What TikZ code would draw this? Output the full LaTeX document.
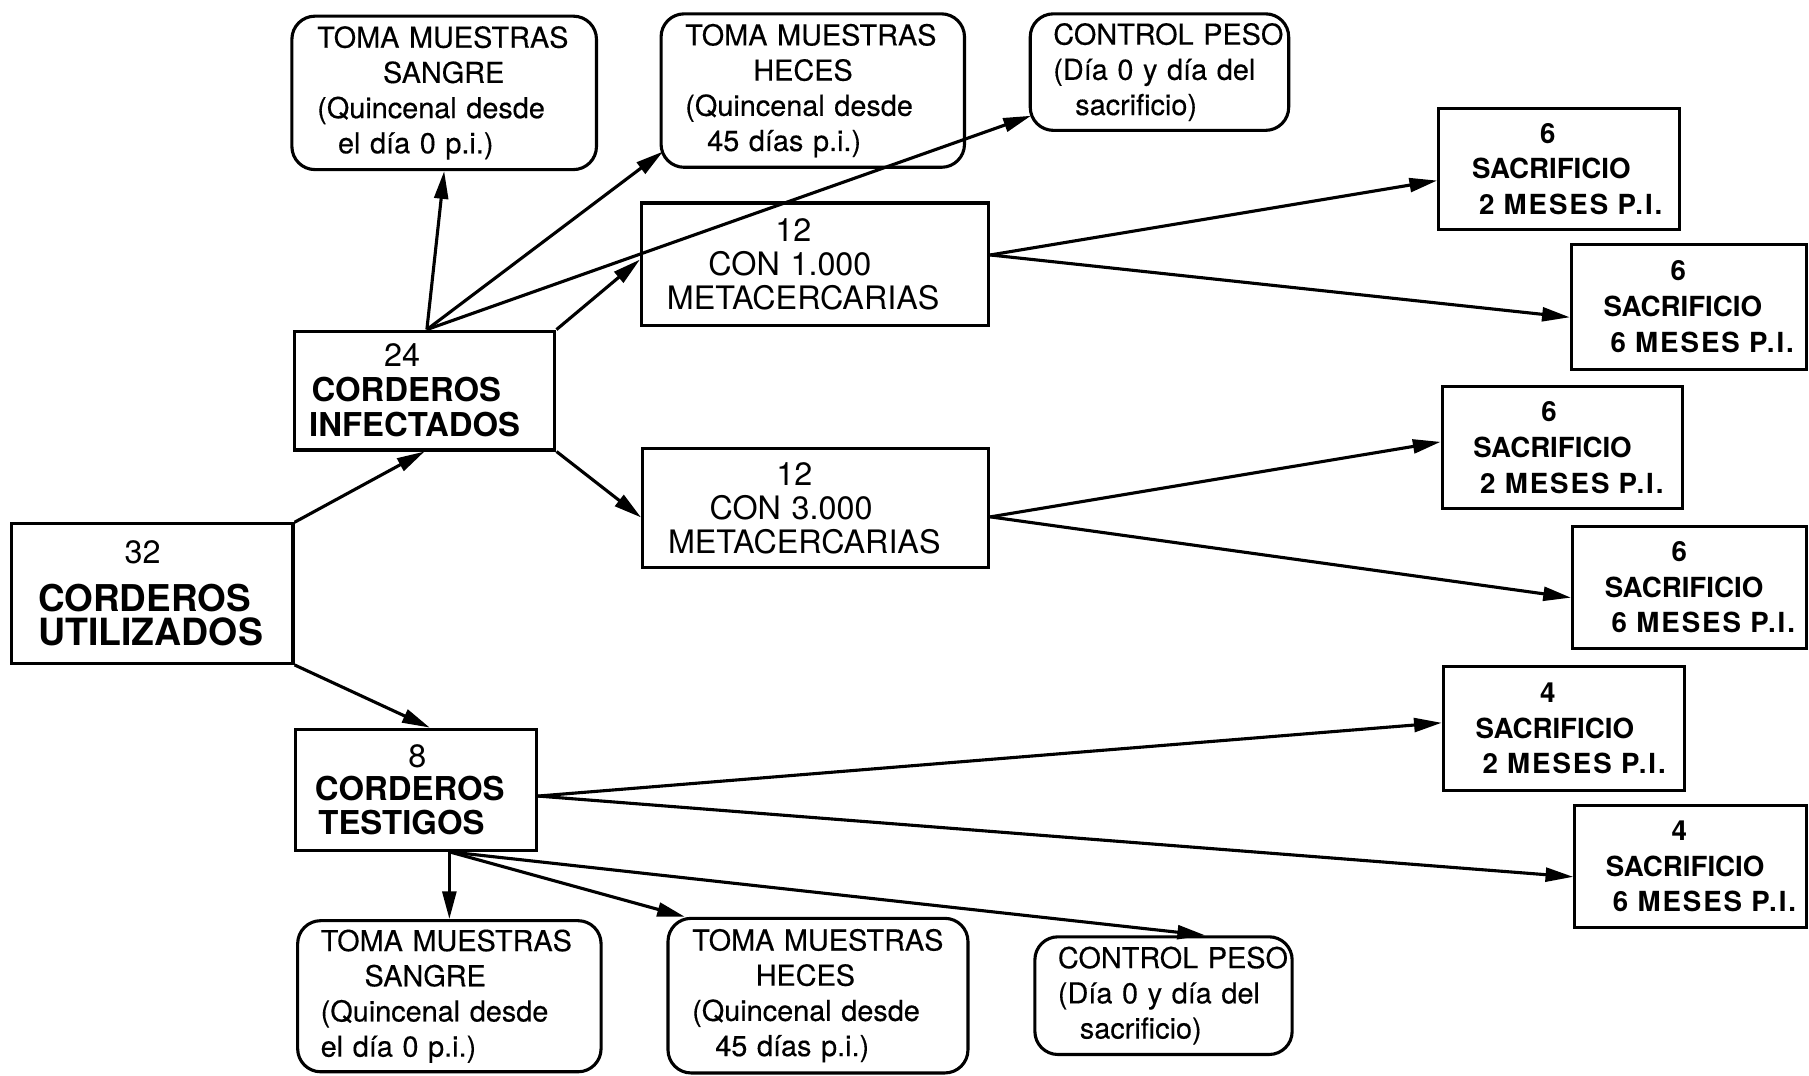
\documentclass[tikz,border=0pt]{standalone}
\usepackage{fontspec}
\setmainfont{TeX Gyre Heros}
\newfontfamily\notefont{TeX Gyre Heros}[FakeBold=0.35]
\usetikzlibrary{arrows.meta,calc}
% wide-set period line of the slaughter boxes
\newcommand\meses[1]{\hspace*{6pt}{\addfontfeatures{LetterSpace=7}#1~MESES~P.I.}}
\begin{document}
\begin{tikzpicture}[x=1pt,y=-1pt,
  every node/.style={inner ysep=0pt, align=left},
  box/.style={draw, line width=2.7pt},
  rbox/.style={box, rounded corners=20pt, font=\notefont\fontsize{25}{30.5}\selectfont},
  grp/.style={box, font=\fontsize{28}{29.5}\selectfont},
  outbox/.style={box, font=\bfseries\fontsize{24}{31}\selectfont},
  arr/.style={line width=2.7pt, -{Triangle[length=24pt,width=12pt]}}
]
\useasboundingbox (0,0) rectangle (1568,932);

% upper sampling boxes
\node[rbox, minimum width=264pt, minimum height=133pt, inner xsep=22pt, text width=220pt] (S1) at (385,80.5)
  {TOMA~MUESTRAS\\\hspace*{57pt}SANGRE\\(Quincenal~desde\\\hspace*{18pt}el~día~0~p.i.)};
\node[rbox, minimum width=263pt, minimum height=133pt, inner xsep=21pt, text width=221pt] (H1) at (704.5,78.5)
  {TOMA~MUESTRAS\\\hspace*{59pt}HECES\\(Quincenal~desde\\\hspace*{19pt}45~días~p.i.)};
\node[rbox, minimum width=224pt, minimum height=101pt, inner xsep=20pt, text width=184pt] (C1) at (1005,62.5)
  {CONTROL~PESO\\(Día~0~y~día~del\\\hspace*{19pt}sacrificio)};

% groups
\node[grp, minimum width=301pt, minimum height=106pt, inner xsep=22pt, text width=257pt] (M1) at (706.5,229)
  {\hspace*{94pt}12\\\hspace*{36pt}CON~1.000\\METACERCARIAS};
\node[grp, minimum width=300pt, minimum height=103pt, inner xsep=22pt, text width=256pt] (M3) at (707,440.5)
  {\hspace*{94pt}12\\\hspace*{36pt}CON~3.000\\METACERCARIAS};
\node[box, font=\fontsize{28}{30.5}\selectfont, minimum width=226pt, minimum height=103pt, inner xsep=13pt, text width=200pt] (I) at (368,338.5)
  {\hspace*{65pt}24\\{\bfseries\fontsize{28.5}{30.5}\selectfont\hspace*{2pt}CORDEROS}\\{\bfseries\fontsize{28.5}{30.5}\selectfont INFECTADOS}};
\node[box, font=\fontsize{28}{30}\selectfont, minimum width=244pt, minimum height=121pt, inner xsep=23pt, text width=198pt] (U) at (132,514.5)
  {\hspace*{75pt}32\\[11pt]{\bfseries\fontsize{32}{30}\selectfont CORDEROS}\\{\bfseries\fontsize{32.5}{30}\selectfont UTILIZADOS}};
\node[box, font=\fontsize{28}{29}\selectfont, minimum width=209pt, minimum height=105pt, inner xsep=17pt, text width=175pt] (T) at (360.5,684.5)
  {\hspace*{81pt}8\\{\bfseries\fontsize{28.5}{29}\selectfont CORDEROS}\\{\bfseries\fontsize{28.5}{29}\selectfont\hspace*{3pt}TESTIGOS}};

% slaughter groups
\node[outbox, minimum width=209pt, minimum height=105pt, inner xsep=29pt, text width=151pt] (R1) at (1351.5,146.5)
  {\hspace*{59pt}6\\SACRIFICIO\\\meses{2}};
\node[outbox, minimum width=204pt, minimum height=108pt, inner xsep=28pt, text width=148pt] (R2) at (1464,266)
  {\hspace*{58pt}6\\SACRIFICIO\\\meses{6}};
\node[outbox, minimum width=208pt, minimum height=106pt, inner xsep=27pt, text width=154pt] (R3) at (1354,388)
  {\hspace*{59pt}6\\SACRIFICIO\\\meses{2}};
\node[outbox, minimum width=203pt, minimum height=106pt, inner xsep=28pt, text width=147pt] (R4) at (1464.5,509)
  {\hspace*{58pt}6\\SACRIFICIO\\\meses{6}};
\node[outbox, minimum width=209pt, minimum height=107pt, inner xsep=28pt, text width=153pt] (R5) at (1355.5,631.5)
  {\hspace*{56pt}4\\SACRIFICIO\\\meses{2}};
\node[outbox, minimum width=201pt, minimum height=106pt, inner xsep=27pt, text width=147pt] (R6) at (1465.5,751)
  {\hspace*{57pt}4\\SACRIFICIO\\\meses{6}};

% lower sampling boxes
\node[rbox, minimum width=263pt, minimum height=131pt, inner xsep=20pt, text width=223pt] (S2) at (389.5,863.5)
  {TOMA~MUESTRAS\\\hspace*{38pt}SANGRE\\(Quincenal~desde\\el~día~0~p.i.)};
\node[rbox, minimum width=260pt, minimum height=134pt, inner xsep=21pt, text width=218pt] (H2) at (709,863)
  {TOMA~MUESTRAS\\\hspace*{55pt}HECES\\(Quincenal~desde\\\hspace*{20pt}45~días~p.i.)};
\node[rbox, minimum width=223pt, minimum height=102pt, inner xsep=20pt, text width=183pt] (C2) at (1008.5,863)
  {CONTROL~PESO\\(Día~0~y~día~del\\\hspace*{19pt}sacrificio)};

% connectors
\draw[arr] (U.north east) -- (I.south);
\draw[arr] (U.south east) -- ($(T.north)+(12,0)$);

\coordinate (Itop) at ($(I.north)+(2,0)$);
\draw[arr] (Itop) -- (S1.south);
\draw[arr] (Itop) -- ($(H1.south west)+(3,-15)$);
\draw[arr] (Itop) -- ($(C1.south west)+(2,-14)$);
\draw[arr] (I.north east) -- ($(M1.west)+(0,-4)$);
\draw[arr] (I.south east) -- ($(M3.west)+(0,8)$);

\coordinate (M1out) at ($(M1.east)+(0,-8)$);
\draw[arr] (M1out) -- ($(R1.west)+(0,10)$);
\draw[arr] (M1out) -- ($(R2.west)+(0,9)$);
\coordinate (M3out) at ($(M3.east)+(0,7.5)$);
\draw[arr] (M3out) -- ($(R3.west)+(0,-5)$);
\draw[arr] (M3out) -- ($(R4.west)+(0,9)$);

\coordinate (Tout) at ($(T.east)+(0,5.5)$);
\draw[arr] (Tout) -- ($(R5.west)+(0,-5)$);
\draw[arr] (Tout) -- ($(R6.west)+(0,9)$);
\coordinate (Tbot) at (S2.north |- T.south);
\draw[arr] (Tbot) -- (S2.north);
\draw[arr] (Tbot) -- ($(H2.north west)+(16,0)$);
\draw[arr] (Tbot) -- ($(C2.north)+(36,0)$);
\end{tikzpicture}
\end{document}
